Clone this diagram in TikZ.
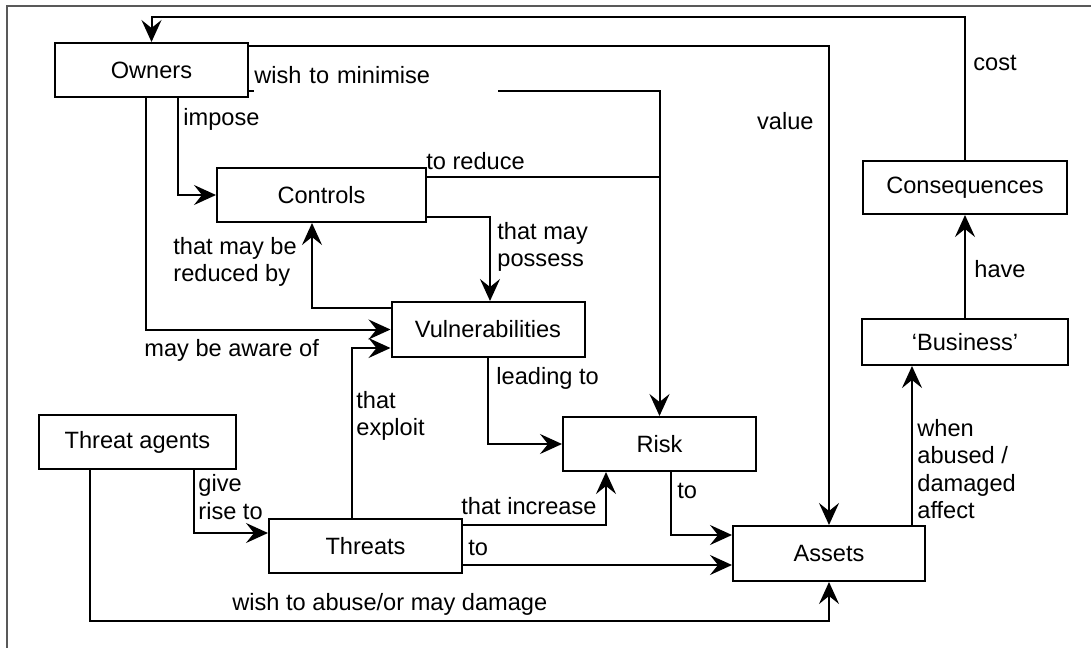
\documentclass[tikz,border=0pt]{standalone}
\usepackage{fontspec}
\setmainfont{Liberation Sans}
\usetikzlibrary{arrows.meta}
\begin{document}
\begin{tikzpicture}[x=0.5pt,y=-0.5pt,
  txt/.style={font=\fontsize{11.8}{13.7}\selectfont},
  box/.style={txt, draw=black, line width=1pt, inner sep=0pt, minimum height=27pt},
  link/.style={line width=1pt},
  arr/.style={link, -{Stealth[length=11pt,width=10pt,inset=4pt]}},
  lbl/.style={txt, inner sep=0pt, align=left},
]
\useasboundingbox (0,0) rectangle (1091,648);

% outer frame (top and left edges)
\draw[gray!70!black, line width=0.6pt] (1091,6) -- (7,6) -- (7,648);

% entities
\node[box, minimum width=96.5pt] (owners) at (151.5,70) {Owners};
\node[box, minimum width=104.5pt] (controls) at (321.5,195) {Controls};
\node[box, minimum width=96.5pt, minimum height=27.5pt] (vuln) at (488,329.5) {Vulnerabilities};
\node[box, minimum width=98.5pt] (ta) at (137.5,442) {Threat agents};
\node[box, minimum width=96.5pt] (threats) at (365.5,546) {Threats};
\node[box, minimum width=96.5pt] (risk) at (659.5,444) {Risk};
\node[box, minimum width=96pt, minimum height=27.5pt] (assets) at (829,553.5) {Assets};
\node[box, minimum width=103pt, minimum height=23pt] (business) at (965,342) {‘Business’};
\node[box, minimum width=102pt, minimum height=26.5pt] (conseq) at (965,187.5) {Consequences};

% bend points of the routed connectors
\coordinate (c1) at (0,17);
\coordinate (v1) at (0,46);
\coordinate (w1) at (0,91);
\coordinate (r1) at (0,177);
\coordinate (i1) at (178,0);
\coordinate (a1) at (146,0);
\coordinate (m1) at (312,308);
\coordinate (p1) at (490,217);
\coordinate (e1) at (352,348);
\coordinate (g1) at (194,533);
\coordinate (d1) at (90,621);
\coordinate (n1) at (606,525);
\coordinate (t1) at (0,565);
\coordinate (k1) at (671,535);
\coordinate (h1) at (912,0);

% connectors
\draw[arr] (conseq.north) -- (conseq.north |- c1) -- (owners.north |- c1) -- (owners.north);
\draw[arr] (owners.east |- v1) -| (assets.north);
\draw[arr] (owners.east |- w1) -| (risk.north);
\draw[link] (controls.east |- r1) -- (risk.north |- r1);
\draw[arr] (owners.south -| i1) |- (controls.west);
\draw[arr] (owners.south -| a1) |- (vuln.west);
\draw[arr] (vuln.west |- m1) -| (controls.south -| m1);
\draw[arr] (controls.east |- p1) -| (vuln.north -| p1);
\draw[arr] (vuln.south) |- (risk.west);
\draw[arr] (threats.north -| e1) |- (vuln.west |- e1);
\draw[arr] (ta.south -| g1) |- (threats.west |- g1);
\draw[arr] (ta.south -| d1) -- (d1) -| (assets.south);
\draw[arr] (threats.east |- n1) -| (risk.south -| n1);
\draw[arr] (threats.east |- t1) -- (assets.west |- t1);
\draw[arr] (risk.south -| k1) |- (assets.west |- k1);
\draw[arr] (assets.north -| h1) -- (business.south -| h1);
\draw[arr] (business.north) -- (conseq.south);

% connector labels
\node[lbl, anchor=base west] (lcost) at (973,70) {cost};
\node[lbl, anchor=base east] (lvalue) at (814,129) {value};
\node[lbl, anchor=south west, fill=white, text width=122pt, text depth=4.5pt] (lmin) at (254,93) {wish to minimise};
\node[lbl, anchor=base west] (limpose) at (183,125) {impose};
\node[lbl, anchor=base west] (lreduce) at (426,169) {to reduce};
\node[lbl, anchor=west] (lreduced) at (173,262) {that may be\\reduced by};
\node[lbl, anchor=west] (lpossess) at (497,247) {that may\\possess};
\node[lbl, anchor=base west] (laware) at (144,356) {may be aware of};
\node[lbl, anchor=base west] (llead) at (496,384) {leading to};
\node[lbl, anchor=west] (lexploit) at (356,416) {that\\exploit};
\node[lbl, anchor=west] (lrise) at (198,497) {give\\rise to};
\node[lbl, anchor=base west] (lincr) at (461,514) {that increase};
\node[lbl, anchor=base west] (lto1) at (468,555) {to};
\node[lbl, anchor=base west] (lto2) at (677,498) {to};
\node[lbl, anchor=base west] (labuse) at (232,610) {wish to abuse/or may damage};
\node[lbl, anchor=west] (laffect) at (917,469) {when\\abused /\\damaged\\affect};
\node[lbl, anchor=base west] (lhave) at (974,277) {have};
\end{tikzpicture}
\end{document}
